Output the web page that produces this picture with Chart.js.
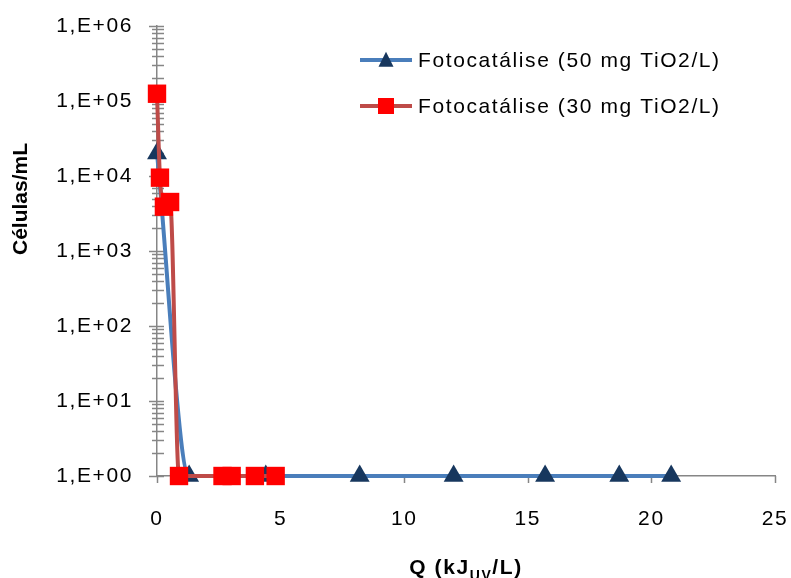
<!DOCTYPE html>
<html>
<head>
<meta charset="utf-8">
<title>Fotocatálise</title>
<script src="https://cdn.jsdelivr.net/npm/chart.js@4/dist/chart.umd.min.js"></script>
<style>
  body { margin: 0; background: #fff; }
  canvas { display: block; }
</style>
</head>
<body>
<canvas id="chart" width="791" height="578"></canvas>
<script>
// values: Q (kJ_UV/L) against cells/mL
const q50 = [0, 1.3, 4.4, 8.2, 12.0, 15.7, 18.7, 20.8];
const cells50 = [2.0e4, 1, 1, 1, 1, 1, 1, 1];
const q30 = [0, 0.12, 0.28, 0.53, 0.89, 2.65, 3.02, 3.96, 4.8];
const cells30 = [1.25e5, 9.5e3, 3.9e3, 4.5e3, 1, 1, 1, 1, 1];
const seriesNames = ['Fotocatálise (50 mg TiO2/L)', 'Fotocatálise (30 mg TiO2/L)'];
const xTicks = [0, 5, 10, 15, 20, 25];
const yTicks = [1, 10, 100, 1e3, 1e4, 1e5, 1e6];
const yTickLabels = ['1,E+00', '1,E+01', '1,E+02', '1,E+03', '1,E+04', '1,E+05', '1,E+06'];

const blueLine = '#4a7ebb';
const blueMark = '#17375e';
const redLine = '#be4b48';
const redMark = '#ff0000';
const axisGrey = '#868686';
const fontFamily = "'Liberation Sans', Arial, sans-serif";

Chart.defaults.font.family = fontFamily;
Chart.defaults.font.size = 21;
Chart.defaults.color = '#000';

function drawMarker(ctx, style, x, y, size, color) {
    ctx.fillStyle = color;
    ctx.beginPath();
    if (style === 'triangle') {
        ctx.moveTo(x, y - size * 0.55);
        ctx.lineTo(x + size / 2, y + size * 0.45);
        ctx.lineTo(x - size / 2, y + size * 0.45);
    } else {
        ctx.rect(x - size / 2, y - size / 2, size, size);
    }
    ctx.closePath();
    ctx.fill();
}

// tick marks, axis titles and the legend, drawn the way the spreadsheet did
const extras = {
    id: 'extras',
    beforeDraw(chart) {
        chart.ctx.letterSpacing = '1.6px';
    },
    beforeDatasetsDraw(chart) {
        const ctx = chart.ctx;
        const xs = chart.scales.x;
        const ys = chart.scales.y;
        const axisX = xs.getPixelForValue(0);
        const axisY = ys.getPixelForValue(1);
        ctx.save();
        ctx.strokeStyle = axisGrey;
        ctx.lineWidth = 1.5;
        ctx.beginPath();
        // y axis: majors and minors both cross the line
        for (let k = 0; k < yTicks.length - 1; k++) {
            for (let m = 1; m <= 9; m++) {
                const py = Math.round(ys.getPixelForValue(m * yTicks[k])) + 0.5;
                const left = m === 1 ? 8 : 5;
                ctx.moveTo(axisX - left, py);
                ctx.lineTo(axisX + 7, py);
            }
        }
        const top = Math.round(ys.getPixelForValue(yTicks[yTicks.length - 1])) + 0.5;
        ctx.moveTo(axisX - 8, top);
        ctx.lineTo(axisX + 7, top);
        // x axis: outside only
        xTicks.forEach(v => {
            const px = Math.round(xs.getPixelForValue(v)) + 0.5;
            ctx.moveTo(px, axisY);
            ctx.lineTo(px, axisY + 7);
        });
        ctx.stroke();
        ctx.restore();
    },
    afterDraw(chart) {
        const ctx = chart.ctx;
        ctx.save();
        ctx.fillStyle = '#000';

        // y title (rotated, so no extra spacing along its length)
        ctx.letterSpacing = '0px';
        ctx.font = 'bold 21px ' + fontFamily;
        ctx.textAlign = 'center';
        ctx.textBaseline = 'middle';
        ctx.translate(21, 199);
        ctx.rotate(-Math.PI / 2);
        ctx.fillText('Células/mL', 0, 0);
        ctx.setTransform(1, 0, 0, 1, 0, 0);
        ctx.letterSpacing = '1.6px';

        // x title with the UV subscript
        ctx.textAlign = 'left';
        ctx.textBaseline = 'alphabetic';
        const big = 'bold 21px ' + fontFamily;
        const small = 'bold 14px ' + fontFamily;
        ctx.font = big;
        const w1 = ctx.measureText('Q (kJ').width;
        const w3 = ctx.measureText('/L)').width;
        ctx.font = small;
        const w2 = ctx.measureText('UV').width;
        let x = 466 - (w1 + w2 + w3) / 2;
        ctx.font = big;
        ctx.fillText('Q (kJ', x, 574);
        x += w1;
        ctx.font = small;
        ctx.fillText('UV', x, 580);
        x += w2;
        ctx.font = big;
        ctx.fillText('/L)', x, 574);

        // legend
        const rows = [
            { y: 60, line: blueLine, mark: blueMark, style: 'triangle', size: 15 },
            { y: 106, line: redLine, mark: redMark, style: 'rect', size: 16 }
        ];
        ctx.font = '21px ' + fontFamily;
        ctx.textBaseline = 'middle';
        rows.forEach((r, i) => {
            ctx.strokeStyle = r.line;
            ctx.lineWidth = 4;
            ctx.beginPath();
            ctx.moveTo(360, r.y);
            ctx.lineTo(412, r.y);
            ctx.stroke();
            drawMarker(ctx, r.style, 386, r.y, r.size, r.mark);
            ctx.fillStyle = '#000';
            ctx.fillText(seriesNames[i], 418, r.y + 1);
        });
        ctx.restore();
    }
};

new Chart(document.getElementById('chart'), {
    type: 'line',
    data: {
        datasets: [
            {
                label: seriesNames[0],
                data: q50.map((x, i) => ({ x: x, y: cells50[i] })),
                borderColor: blueLine,
                borderWidth: 4,
                pointStyle: 'triangle',
                pointRadius: 11.5,
                pointBorderWidth: 0,
                pointBackgroundColor: blueMark,
                cubicInterpolationMode: 'monotone',
                clip: false,
                order: 2
            },
            {
                label: seriesNames[1],
                data: q30.map((x, i) => ({ x: x, y: cells30[i] })),
                borderColor: redLine,
                borderWidth: 4,
                pointStyle: 'rect',
                pointRadius: 13,
                pointBorderWidth: 0,
                pointBackgroundColor: redMark,
                cubicInterpolationMode: 'monotone',
                clip: false,
                order: 1
            }
        ]
    },
    options: {
        responsive: false,
        animation: false,
        events: [],
        layout: { padding: { top: 26, right: 16, left: 0, bottom: 0 } },
        plugins: {
            legend: { display: false },
            tooltip: { enabled: false }
        },
        scales: {
            x: {
                type: 'linear',
                min: 0,
                max: 25,
                afterBuildTicks: s => { s.ticks = xTicks.map(v => ({ value: v })); },
                afterFit: s => {
                    s.height = 102;
                    s.paddingLeft = 0;
                    s.paddingRight = 0;
                },
                grid: { display: false, drawTicks: false },
                border: { color: axisGrey, width: 1.5 },
                ticks: { padding: 31, maxRotation: 0 }
            },
            y: {
                type: 'logarithmic',
                min: 1,
                max: 1e6,
                afterBuildTicks: s => { s.ticks = yTicks.map(v => ({ value: v })); },
                afterFit: s => {
                    s.width = 157;
                    s.paddingTop = 0;
                    s.paddingBottom = 0;
                },
                grid: { display: false, drawTicks: false },
                border: { color: axisGrey, width: 1.5 },
                ticks: { padding: 24, callback: (v, i) => yTickLabels[i] }
            }
        }
    },
    plugins: [extras]
});
</script>
</body>
</html>
